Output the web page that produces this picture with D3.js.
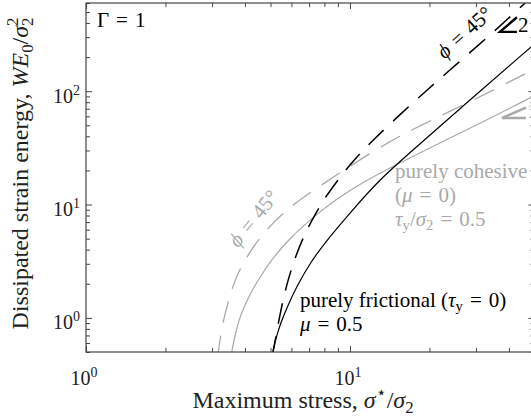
<!DOCTYPE html>
<html>
<head>
<meta charset="utf-8">
<script src="https://cdnjs.cloudflare.com/ajax/libs/d3/7.8.5/d3.min.js"></script>
<style>
body { margin: 0; background: #fff; }
svg { display: block; }
text { font-family: "Liberation Serif", "Times New Roman", serif; }
</style>
</head>
<body>
<svg id="chart" width="531" height="417"></svg>
<script>
// axis limits and ticks
var xDomain = [1, 50];
var yDomain = [0.5, 600];
var xMajor = [1, 10];
var xMinor = [2, 3, 4, 5, 6, 7, 8, 9, 20, 30, 40, 50];
var yMajor = [1, 10, 100];
var yMinor = [0.5, 0.6, 0.7, 0.8, 0.9, 2, 3, 4, 5, 6, 7, 8, 9, 20, 30, 40, 50, 60, 70, 80, 90, 200, 300, 400, 500, 600];

// curves (x = sigma*/sigma2, y = W E0/sigma2^2)
var fricSolidX = [5.06, 5.10, 5.245, 5.478, 5.825, 6.30, 7.056, 8.18, 10.0, 12.99, 17.32, 28.5, 48.07, 50];
var fricSolidY = [0.45, 0.5, 0.665, 0.920, 1.30, 1.912, 3.05, 4.87, 8.43, 16.83, 30.3, 83.8, 241, 261];

var fricDashX = [5.08, 5.11, 5.245, 5.383, 5.575, 5.825, 6.136, 6.579, 7.18, 8.04, 10.0, 12.33, 16.16, 20.8, 27.0, 36.1, 46.0, 50];
var fricDashY = [0.45, 0.5, 0.692, 0.958, 1.439, 2.16, 3.18, 4.87, 7.31, 11.67, 22.8, 37.9, 68.4, 116, 197, 355, 600, 710];

var cohSolidX = [3.54, 3.564, 3.70, 3.865, 4.108, 4.483, 5.064, 5.926, 7.056, 8.77, 11.40, 15.47, 21.93, 32.46, 48.07, 50];
var cohSolidY = [0.45, 0.5, 0.782, 1.082, 1.498, 2.16, 3.31, 5.07, 7.31, 10.98, 16.16, 23.3, 34.98, 54.7, 87.3, 91];

var cohDashX = [3.15, 3.17, 3.218, 3.304, 3.451, 3.70, 4.145, 4.723, 5.874, 7.70, 10.17, 14.17, 19.07, 25.87, 35.1, 45.6, 50];
var cohDashY = [0.45, 0.5, 0.638, 0.92, 1.381, 2.343, 3.74, 5.73, 9.52, 14.6, 22.4, 36.4, 51.5, 72.7, 102.7, 140.7, 157];

var black = "#000";
var grey = "#a9a9a9";

var svg = d3.select("#chart");
var padL = 86, padR = 534.5, padT = 3, padB = 352;

var x = d3.scaleLog().domain(xDomain).range([padL, padR]);
var y = d3.scaleLog().domain(yDomain).range([padB, padT]);

svg.append("clipPath").attr("id", "plotclip")
    .append("rect").attr("x", padL).attr("y", padT)
    .attr("width", padR - padL).attr("height", padB - padT);

// text with italic / sub / sup pieces
function richText(sel, parts, size) {
    var cur = 0;
    parts.forEach(function(p) {
        var kind = p[1] || "";
        var small = kind.indexOf("sub") >= 0 || kind.indexOf("sup") >= 0;
        var off = kind.indexOf("sub") >= 0 ? size * 0.2 : (kind.indexOf("sup") >= 0 ? -size * 0.4 : 0);
        var ts = sel.append("tspan").text(p[0])
            .attr("dy", off - cur)
            .style("font-size", (small ? size * 0.7 : size) + "px");
        if (kind.indexOf("i") === 0) ts.style("font-style", "italic");
        if (kind.indexOf("back") >= 0) ts.attr("dx", -size * 0.35);
        cur = off;
    });
    return sel;
}

// curves
var line = d3.line()
    .x(function(d) { return x(d[0]); })
    .y(function(d) { return y(d[1]); })
    .curve(d3.curveBasis);

var curves = [
    {xs: cohSolidX, ys: cohSolidY, color: grey, dash: null, w: 1.2},
    {xs: cohDashX, ys: cohDashY, color: grey, dash: "22,13", w: 1.3},
    {xs: fricSolidX, ys: fricSolidY, color: black, dash: null, w: 1.2},
    {xs: fricDashX, ys: fricDashY, color: black, dash: "21,13", w: 1.5}
];

var plot = svg.append("g").attr("clip-path", "url(#plotclip)");
curves.forEach(function(c) {
    var pts = c.xs.map(function(v, i) { return [v, c.ys[i]]; });
    plot.append("path")
        .attr("d", line(pts))
        .attr("fill", "none")
        .attr("stroke", c.color)
        .attr("stroke-width", c.w)
        .attr("stroke-dasharray", c.dash);
});

// slope markers
var slopeMarks = [
    {x0: 37.0, y0: 334, x1: 42.9, slope: 2, label: "2", color: black},
    {x0: 37.65, y0: 58.1, x1: 46.4, slope: 1, label: "1", color: grey}
];
slopeMarks.forEach(function(m) {
    var y1 = m.y0 * Math.pow(m.x1 / m.x0, m.slope);
    plot.append("path")
        .attr("d", "M" + x(m.x1) + "," + y(y1) + "L" + x(m.x0) + "," + y(m.y0) + "L" + x(m.x1) + "," + y(m.y0))
        .attr("fill", "none")
        .attr("stroke", m.color)
        .attr("stroke-width", 2.4);
    svg.append("text")
        .attr("x", x(m.x1) + 1)
        .attr("y", y(m.y0))
        .attr("fill", m.color)
        .style("font-size", "21px")
        .text(m.label);
});

// axes: ticks inward on all four sides
function drawTicks(axis, tf, size) {
    var g = svg.append("g").attr("transform", tf).call(axis.tickSize(-size).tickFormat(""));
    g.select(".domain").remove();
    g.selectAll("line").attr("stroke", "#444").attr("stroke-width", 1);
}
drawTicks(d3.axisBottom(x).tickValues(xMajor), "translate(0," + padB + ")", 6);
drawTicks(d3.axisBottom(x).tickValues(xMinor), "translate(0," + padB + ")", 4);
drawTicks(d3.axisTop(x).tickValues(xMajor), "translate(0," + padT + ")", 6);
drawTicks(d3.axisTop(x).tickValues(xMinor), "translate(0," + padT + ")", 4);
drawTicks(d3.axisLeft(y).tickValues(yMajor), "translate(" + padL + ",0)", 6);
drawTicks(d3.axisLeft(y).tickValues(yMinor), "translate(" + padL + ",0)", 4);
drawTicks(d3.axisRight(y).tickValues(yMajor), "translate(" + padR + ",0)", 6);
drawTicks(d3.axisRight(y).tickValues(yMinor), "translate(" + padR + ",0)", 4);

svg.append("rect")
    .attr("x", padL).attr("y", padT)
    .attr("width", padR - padL).attr("height", padB - padT)
    .attr("fill", "none").attr("stroke", "#444").attr("stroke-width", 1.2);

// tick labels
xMajor.forEach(function(v) {
    var t = svg.append("text")
        .attr("x", x(v) - 2).attr("y", padB + 33)
        .attr("text-anchor", "middle").attr("fill", "#222");
    richText(t, [["10"], [String(Math.round(Math.log10(v))), "sup"]], 20);
});
yMajor.forEach(function(v) {
    var t = svg.append("text")
        .attr("x", padL - 6).attr("y", y(v) + 11.5)
        .attr("text-anchor", "end").attr("fill", "#222");
    richText(t, [["10"], [String(Math.round(Math.log10(v))), "sup"]], 20);
});

// axis titles
richText(svg.append("text")
    .attr("x", 303).attr("y", 408)
    .attr("text-anchor", "middle").attr("fill", "#222"),
    [["Maximum stress, "], ["σ", "i"], ["⋆", "sup"], ["/"], ["σ", "i"], ["2", "sub"]], 24);

richText(svg.append("text")
    .attr("transform", "translate(28,173.5) rotate(-90)")
    .attr("text-anchor", "middle").attr("fill", "#222"),
    [["Dissipated strain energy, "], ["WE", "i"], ["0", "sub"], ["/"], ["σ", "i"], ["2", "sup"], ["2", "sub back"]], 24);

// annotations
var eq = "\u2004=\u2004";
var notes = [
    {x: 1.10, y: 369, color: black, parts: [["Γ" + eq + "1"]]},
    {x: 14.81, y: 17.17, color: grey, parts: [["purely cohesive"]]},
    {x: 14.81, y: 10.54, color: grey, parts: [["("], ["μ", "i"], [eq + "0)"]]},
    {x: 14.81, y: 6.47, color: grey, parts: [["τ", "i"], ["y", "sub"], ["/"], ["σ", "i"], ["2", "sub"], [eq + "0.5"]]},
    {x: 6.465, y: 1.248, color: black, parts: [["purely frictional ("], ["τ", "i"], ["y", "sub"], [eq + "0)"]]},
    {x: 6.465, y: 0.766, color: black, parts: [["μ", "i"], [eq + "0.5"]]}
];
notes.forEach(function(n) {
    richText(svg.append("text").attr("x", x(n.x)).attr("y", y(n.y)).attr("fill", n.color), n.parts, 21);
});

var angleNotes = [
    {x: 27.15, y: 330, angle: -42, color: black},
    {x: 4.31, y: 7.54, angle: -51, color: grey}
];
angleNotes.forEach(function(n) {
    var t = svg.append("text")
        .attr("transform", "translate(" + x(n.x) + "," + y(n.y) + ") rotate(" + n.angle + ")")
        .attr("text-anchor", "middle").attr("fill", n.color);
    richText(t, [["ϕ", "i"], [eq + "45°"]], 21);
    t.select("tspan").attr("dy", 7);
});
</script>
</body>
</html>
